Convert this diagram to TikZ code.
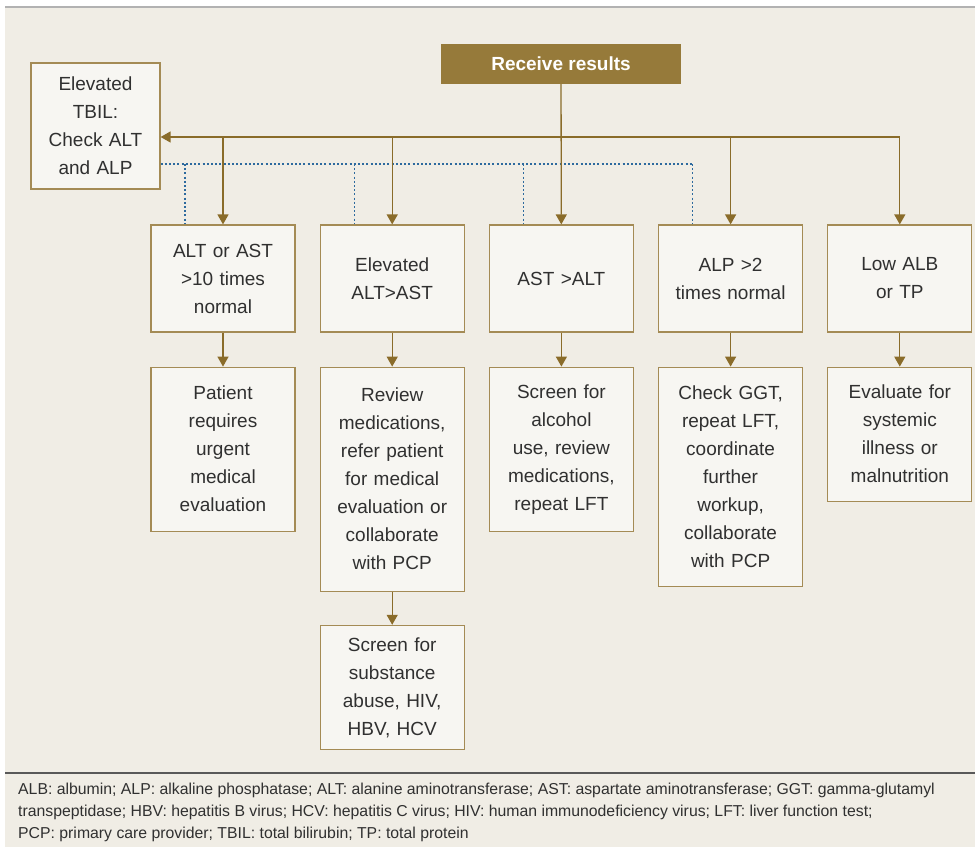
\documentclass[tikz,border=0pt]{standalone}
\usepackage{fontspec}
\setmainfont{Liberation Sans}
\usetikzlibrary{arrows.meta,positioning}
\definecolor{PanelBeige}{HTML}{F0EDE5}
\definecolor{BoxFill}{HTML}{F7F6F2}
\definecolor{BoxEdge}{HTML}{A48B55}
\definecolor{FlowBrown}{HTML}{8A6C2A}
\definecolor{HeadGold}{HTML}{967A3A}
\definecolor{LinkBlue}{HTML}{2D6A9E}
\definecolor{TextGray}{HTML}{303030}

\begin{document}
\begin{tikzpicture}[
    x=1pt, y=1pt,
    box/.style={draw=BoxEdge, line width=1.2pt, fill=BoxFill, text=TextGray,
      minimum width=144pt, text width=136pt, align=center, inner sep=0pt,
      font=\fontsize{19}{28}\selectfont},
    headbox/.style={fill=HeadGold, text=white, minimum width=240pt,
      minimum height=40pt, font=\bfseries\fontsize{19}{24}\selectfont},
    arr/.style={-{Triangle[length=10pt,width=11pt]}, line width=1.3pt, draw=FlowBrown},
    flow/.style={line width=1.3pt, draw=FlowBrown},
    link/.style={draw=LinkBlue, line width=1.3pt, dash pattern=on 2pt off 2.2pt},
    node distance=34pt and 24pt
  ]
    \useasboundingbox (0,0) rectangle (975,-847);
    \fill[PanelBeige] (5,-8) rectangle (975,-847);
    \draw[black!30, line width=2pt] (5,-7) -- (975,-7);
    \draw[black!65, line width=1.5pt] (5,-773) -- (975,-773);

    \node[headbox] (recv) at (561,-64) {Receive results};
    \node[box, minimum width=129pt, text width=120pt, minimum height=126pt] (tbil)
      at (95.5,-126) {Elevated\\TBIL:\\Check ALT\\and ALP};

    % first row of results
    \node[box, minimum height=107pt] (alt10) at (223,-278.5) {ALT or AST\\>10 times\\normal};
    \node[box, minimum height=107pt, right=of alt10] (altast) {Elevated\\ALT>AST};
    \node[box, minimum height=107pt, right=of altast] (ast) {AST >ALT};
    \node[box, minimum height=107pt, right=of ast] (alp) {ALP >2\\times normal};
    \node[box, minimum height=107pt, right=of alp] (alb) {Low ALB\\or TP};

    % actions
    \node[box, minimum height=164pt, below=of alt10] (urgent)
      {Patient\\requires\\urgent\\medical\\evaluation};
    \node[box, minimum height=224pt, below=of altast] (review)
      {Review\\medications,\\refer patient\\for medical\\evaluation or\\collaborate\\with PCP};
    \node[box, minimum height=164pt, below=of ast] (screen)
      {Screen for\\alcohol\\use, review\\medications,\\repeat LFT};
    \node[box, minimum height=219pt, below=of alp] (ggt)
      {Check GGT,\\repeat LFT,\\coordinate\\further\\workup,\\collaborate\\with PCP};
    \node[box, minimum height=134pt, below=of alb] (illness)
      {Evaluate for\\systemic\\illness or\\malnutrition};
    \node[box, minimum height=124pt, below=33pt of review] (subst)
      {Screen for\\substance\\abuse, HIV,\\HBV, HCV};

    \coordinate (busy) at (0,-137);
    \coordinate (doty) at (0,-164);

    % dotted links back to TBIL
    \draw[link] (tbil.east |- doty) -- ([xshift=-38pt]alp.north |- doty);
    \foreach \b in {alt10,altast,ast,alp}
      \draw[link] ([xshift=-38pt]\b.north |- doty) -- ([xshift=-38pt]\b.north);

    % main bus
    \draw[flow] (recv.south |- busy) -- (alb.north |- busy);
    \draw[arr] (recv.south |- busy) -- (tbil.east |- busy);
    \draw[arr] (recv) -- (ast);
    \foreach \b in {alt10,altast,alp,alb}
      \draw[arr] (\b.north |- busy) -- (\b);
    \foreach \a/\b in {alt10/urgent,altast/review,ast/screen,alp/ggt,alb/illness,review/subst}
      \draw[arr] (\a) -- (\b);

    \node[anchor=north west, align=left, inner sep=0pt, text=TextGray,
      font=\fontsize{15.8}{22}\selectfont] (abbrev) at (18,-783)
      {ALB: albumin; ALP: alkaline phosphatase; ALT: alanine aminotransferase; AST: aspartate aminotransferase; GGT: gamma-glutamyl\\
       transpeptidase; HBV: hepatitis B virus; HCV: hepatitis C virus; HIV: human immunodeficiency virus; LFT: liver function test;\\
       PCP: primary care provider; TBIL: total bilirubin; TP: total protein};
\end{tikzpicture}
\end{document}
